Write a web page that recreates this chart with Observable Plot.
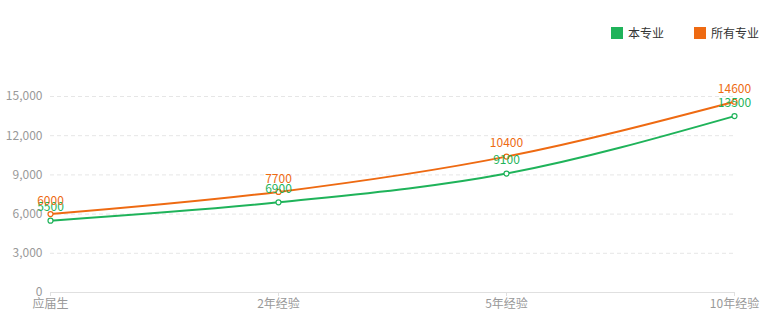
<!DOCTYPE html>
<html><head><meta charset="utf-8">
<script src="https://cdn.jsdelivr.net/npm/d3@7"></script>
<script src="https://cdn.jsdelivr.net/npm/@observablehq/plot@0.6"></script>
<style>
body{margin:0;background:#fff;font-family:"Noto Sans CJK SC","Noto Sans",sans-serif;}
#wrap{position:relative;width:772px;height:331px;}
.lg{position:absolute;top:24px;font-size:12px;color:#333;display:flex;align-items:center;}
.sw{display:inline-block;width:12px;height:12px;margin-right:5px;}
</style></head>
<body><div id="wrap"></div>
<script>
const categories = ["应届生","2年经验","5年经验","10年经验"];
const seriesNames = ["本专业","所有专业"];
const majorValues = [5500, 6900, 9100, 13500];
const allValues = [6000, 7700, 10400, 14600];
const yTicks = [0,3000,6000,9000,12000,15000];
const colors = {"本专业":"#1fb35a","所有专业":"#ee6a12"};

const data = [];
categories.forEach((c,i)=>{
  data.push({cat:c, series:seriesNames[0], value:majorValues[i]});
  data.push({cat:c, series:seriesNames[1], value:allValues[i]});
});

const chart = Plot.plot({
  width:772, height:331,
  marginLeft:50, marginRight:38, marginTop:96, marginBottom:39,
  style:{fontFamily:'"Noto Sans CJK SC","Noto Sans",sans-serif', fontSize:"12px", background:"#fff"},
  x:{type:"point", domain:categories, padding:0, label:null},
  y:{domain:[0,15000], label:null},
  color:{domain:seriesNames, range:seriesNames.map(s=>colors[s])},
  marks:[
    Plot.ruleY(yTicks.filter(d=>d>0), {stroke:"#e6e6e6", strokeDasharray:"4,3", strokeWidth:1}),
    Plot.ruleY([0], {stroke:"#e0e0e0", strokeWidth:1}),
    Plot.axisY({ticks:yTicks, tickSize:0, tickPadding:8, tickFormat:d3.format(","), fill:"#999", fontSize:12}),
    Plot.axisX({tickSize:4, tickPadding:3, stroke:"#e0e0e0", fill:"#999", fontSize:12}),
    Plot.line(data, {x:"cat", y:"value", stroke:"series", strokeWidth:2, curve:"monotone-x"}),
    Plot.dot(data, {x:"cat", y:"value", stroke:"series", fill:"#fff", r:2.5, strokeWidth:1.2}),
    Plot.text(data, {x:"cat", y:"value", text:d=>String(d.value), fill:"series", dy:-13, fontSize:12})
  ]
});
const wrap = document.getElementById("wrap");
wrap.appendChild(chart);
[[seriesNames[0],611],[seriesNames[1],694]].forEach(([n,x])=>{
  const d=document.createElement("div");
  d.className="lg"; d.style.left=x+"px";
  d.innerHTML=`<span class="sw" style="background:${colors[n]}"></span>${n}`;
  wrap.appendChild(d);
});
</script></body></html>
